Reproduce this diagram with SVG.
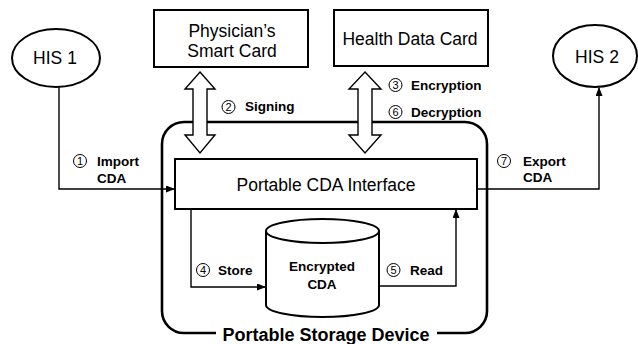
<svg xmlns="http://www.w3.org/2000/svg" width="638" height="344" viewBox="0 0 638 344">
<style>
.box{fill:#fff;stroke:#000;stroke-width:2}
.t{font-family:"Liberation Sans",Arial,sans-serif;font-size:17.5px;fill:#000;text-anchor:middle}
.b{font-family:"Liberation Sans",Arial,sans-serif;font-size:13.5px;font-weight:bold;fill:#000}
.nc{fill:none;stroke:#000;stroke-width:1}
.nd{font-family:"Liberation Sans",Arial,sans-serif;font-size:11px;fill:#000;text-anchor:middle}
.c{fill:none;stroke:#000;stroke-width:1.4}
.dbl{fill:#fff;stroke:#000;stroke-width:1.4}
</style>
<defs>
<marker id="ah" markerWidth="9" markerHeight="7" refX="8" refY="3.5" orient="auto" markerUnits="userSpaceOnUse">
<path d="M0,0 L9,3.5 L0,7 Z" fill="#000"/>
</marker>
</defs>
<rect width="638" height="344" fill="#fff"/>

<g id="storage">
<rect x="162" y="122" width="325" height="211" rx="22" ry="22" fill="none" stroke="#000" stroke-width="2.6"/>
<rect x="216" y="325" width="221" height="19" fill="#fff"/>
<text x="326" y="341" class="t" style="font-weight:bold;font-size:18px">Portable Storage Device</text>
</g>

<g id="his1">
<ellipse cx="56" cy="58" rx="44" ry="29" class="box"/>
<text x="55" y="64" class="t">HIS 1</text>
</g>
<g id="his2">
<ellipse cx="595" cy="56" rx="42" ry="31" class="box"/>
<text x="597" y="63" class="t">HIS 2</text>
</g>
<g id="physician">
<rect x="154" y="10" width="154" height="57" class="box"/>
<text x="232" y="37" class="t">Physician’s</text>
<text x="232" y="57" class="t">Smart Card</text>
</g>
<g id="healthcard">
<rect x="334" y="10" width="154" height="56" class="box"/>
<text x="410" y="45" class="t">Health Data Card</text>
</g>
<g id="interface">
<rect x="175" y="159" width="302" height="50" class="box"/>
<text x="326" y="191" class="t">Portable CDA Interface</text>
</g>
<g id="cylinder">
<path d="M266,231 L266,305 A56.5,12 0 0 0 379,305 L379,231" class="box"/>
<ellipse cx="322.5" cy="231" rx="56.5" ry="12" class="box"/>
<text x="322" y="271" class="b" text-anchor="middle">Encrypted</text>
<text x="322" y="289" class="b" text-anchor="middle">CDA</text>
</g>

<g id="connectors">
<path d="M200,72 L215,89 L207,89 L207,135 L215,135 L200,153 L185,135 L193,135 L193,89 L185,89 Z" class="dbl"/>
<path d="M365,72 L381,89 L372,89 L372,135 L381,135 L365,153 L349,135 L358,135 L358,89 L349,89 Z" class="dbl"/>
<path d="M59,87 L59,189 L174,189" class="c" marker-end="url(#ah)"/>
<path d="M477,189 L599,189 L599,88" class="c" marker-end="url(#ah)"/>
<path d="M191,209 L191,287 L265,287" class="c" marker-end="url(#ah)"/>
<path d="M379,286 L456,286 L456,210" class="c" marker-end="url(#ah)"/>
</g>

<g id="labels">
<circle cx="80" cy="161" r="6.5" class="nc"/><text x="80" y="165" class="nd">1</text>
<text x="97" y="166" class="b">Import</text>
<text x="97" y="183" class="b">CDA</text>
<circle cx="228.5" cy="107" r="6.5" class="nc"/><text x="228.5" y="111" class="nd">2</text>
<text x="245" y="111" class="b">Signing</text>
<circle cx="395.5" cy="85" r="6.5" class="nc"/><text x="395.5" y="89" class="nd">3</text>
<text x="411" y="90" class="b">Encryption</text>
<circle cx="395.5" cy="112" r="6.5" class="nc"/><text x="395.5" y="116" class="nd">6</text>
<text x="411" y="117" class="b">Decryption</text>
<circle cx="504" cy="161" r="6.5" class="nc"/><text x="504" y="165" class="nd">7</text>
<text x="523" y="166" class="b">Export</text>
<text x="523" y="182" class="b">CDA</text>
<circle cx="203" cy="270" r="6.5" class="nc"/><text x="203" y="274" class="nd">4</text>
<text x="218" y="275" class="b">Store</text>
<circle cx="393.5" cy="270" r="6.5" class="nc"/><text x="393.5" y="274" class="nd">5</text>
<text x="410" y="275" class="b">Read</text>
</g>
</svg>
